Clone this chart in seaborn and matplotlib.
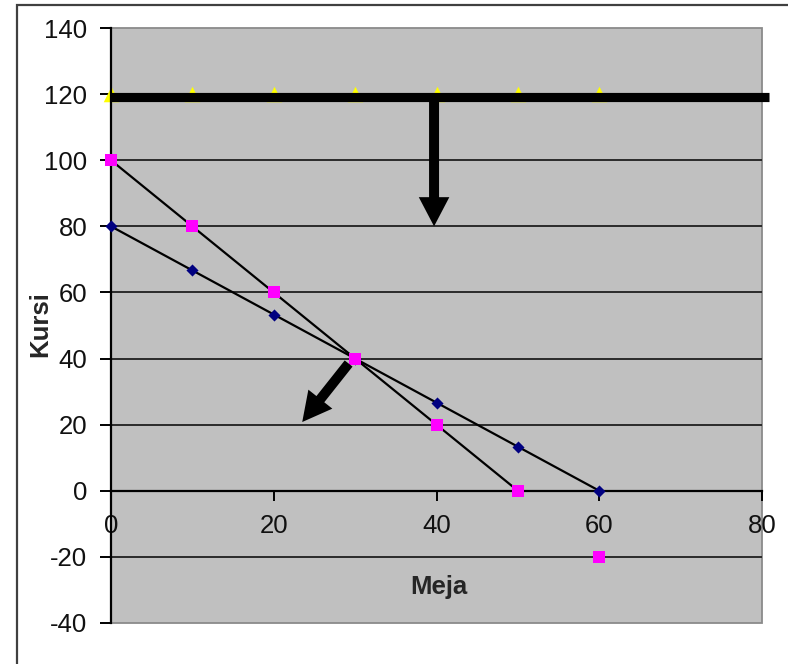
import matplotlib
matplotlib.use("Agg")
import matplotlib.pyplot as plt
import matplotlib.patches as mpatches
from matplotlib.transforms import offset_copy
import seaborn as sns
import pandas as pd

# ---- data ----
meja = [0, 10, 20, 30, 40, 50, 60]
kursi_blue = [80, 66.7, 53.3, 40, 26.7, 13.3, 0]
kursi_pink = [100, 80, 60, 40, 20, 0, -20]
kursi_yellow = [120, 120, 120, 120, 120, 120, 120]

line_blue_x = [0, 60]
line_blue_y = [80, 0]
line_pink_x = [0, 50]
line_pink_y = [100, 0]
constraint_x = [0, 80.8]
constraint_y = [120, 120]

arrow1_start = (39.7, 119)
arrow1_end = (39.7, 80)
arrow2_start = (29.2, 38.5)
arrow2_end = (23.5, 20.8)

x_ticks = [0, 20, 40, 60, 80]
y_ticks = [-40, -20, 0, 20, 40, 60, 80, 100, 120, 140]

sns.set_style("white")
plt.rcParams['font.family'] = ['Liberation Sans', 'DejaVu Sans']
plt.rcParams['axes.unicode_minus'] = False

W, H = 788, 664
fig = plt.figure(figsize=(W / 100, H / 100), dpi=100)
L, R, T, B = 111, 762, 28, 623
ax = fig.add_axes([L / W, 1 - B / H, (R - L) / W, (B - T) / H])

# outer chart frame
fig.patches.append(mpatches.Rectangle((17 / W, -0.2), 2, 1 - 5 / H + 0.2,
                                      transform=fig.transFigure, fill=False,
                                      edgecolor='#404040', lw=1.6))

ax.set_facecolor('#C0C0C0')
ax.patch.set_edgecolor('#8a8a8a')
ax.patch.set_linewidth(1.3)

ax.set_xlim(0, 80)
ax.set_ylim(-40, 140)
ax.set_xticks(x_ticks)
ax.set_yticks(y_ticks)

# grid lines
for yv in y_ticks:
    if yv not in (-40, 0, 140):
        ax.axhline(yv, color='#2a2a2a', lw=1.4, zorder=1)

df_y = pd.DataFrame({'x': meja, 'y': kursi_yellow})
sns.scatterplot(data=df_y, x='x', y='y', marker='^', s=125, color='#FFFF00',
                linewidth=0, ax=ax, zorder=2, clip_on=False)

n0 = len(ax.lines)
sns.lineplot(x=constraint_x, y=constraint_y, color='black', lw=6.6, ax=ax,
             zorder=3, clip_on=False, solid_capstyle='butt')
thick = ax.lines[n0]
thick.set_transform(offset_copy(ax.transData, fig=fig, x=0, y=-2.5, units='dots'))

sns.lineplot(x=line_blue_x, y=line_blue_y, color='black', lw=1.6, ax=ax, zorder=3)
sns.lineplot(x=line_pink_x, y=line_pink_y, color='black', lw=1.6, ax=ax, zorder=3)

df_b = pd.DataFrame({'x': meja, 'y': kursi_blue})
df_p = pd.DataFrame({'x': meja, 'y': kursi_pink})
sns.scatterplot(data=df_b, x='x', y='y', marker='D', s=38, color='#000080',
                linewidth=0, ax=ax, zorder=4, clip_on=False)
sns.scatterplot(data=df_p, x='x', y='y', marker='s', s=70, color='#FF00FF',
                linewidth=0, ax=ax, zorder=4, clip_on=False)

style = "simple,head_width=2.2,head_length=2.1,tail_width=0.72"
for s, e in [(arrow1_start, arrow1_end), (arrow2_start, arrow2_end)]:
    ax.annotate('', xy=e, xytext=s,
                arrowprops=dict(arrowstyle=style, mutation_scale=10,
                                fc='black', ec='black', lw=0,
                                shrinkA=0, shrinkB=0),
                zorder=5)

# spines
for sp in ['top', 'right']:
    ax.spines[sp].set_visible(False)
ax.spines['left'].set_color('black')
ax.spines['left'].set_linewidth(1.6)
ax.spines['bottom'].set_position(('data', 0))
ax.spines['bottom'].set_color('black')
ax.spines['bottom'].set_linewidth(1.6)
ax.spines['bottom'].set_zorder(2)

ax.tick_params(axis='x', direction='out', length=7.5, width=1.4, pad=9,
               labelsize=18.5, colors='black', bottom=True)
ax.tick_params(axis='y', direction='out', length=8, width=1.4, pad=9,
               labelsize=18.5, colors='black', left=True)
for lab in ax.get_xticklabels() + ax.get_yticklabels():
    lab.set_color('#111111')

ax.set_xlabel('Meja', fontsize=18.5, fontweight='bold')
ax.xaxis.label.set_va('center')
ax.xaxis.set_label_coords(0.504, 0.06)
ax.set_ylabel('Kursi', fontsize=18.5, fontweight='bold')
ax.yaxis.label.set_va('center')
ax.yaxis.set_label_coords(-0.109, 0.5025)

fig.savefig('out.png', dpi=100)
